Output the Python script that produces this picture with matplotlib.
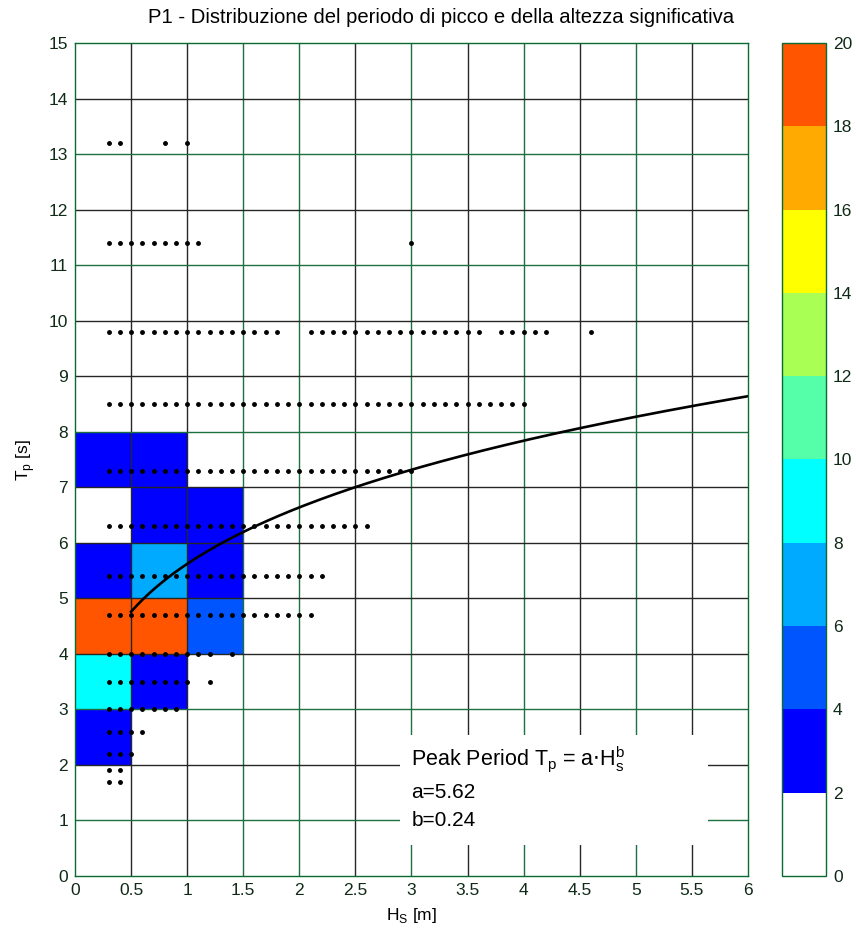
import numpy as np
import matplotlib
matplotlib.use("Agg")
import matplotlib.pyplot as plt
from matplotlib.colors import ListedColormap, BoundaryNorm
from matplotlib.patches import Rectangle

plt.rcParams["font.family"] = ["Liberation Sans", "DejaVu Sans"]

# occurrence matrix cells: (Hs bin start, Tp bin start, value)
hs_edges = [0, 0.5, 1, 1.5, 2, 2.5, 3, 3.5, 4, 4.5, 5, 5.5, 6]
tp_edges = [0, 1, 2, 3, 4, 5, 6, 7, 8, 9, 10, 11, 12, 13, 14, 15]
cell_hs = [0.0, 0.5, 0.5, 1.0, 0.0, 0.5, 1.0, 0.0, 0.5, 1.0, 0.0, 0.5, 0.0]
cell_tp = [7, 7, 6, 6, 5, 5, 5, 4, 4, 4, 3, 3, 2]
cell_val = [3.2, 3.0, 2.8, 2.6, 3.4, 7.0, 3.1, 19.0, 18.6, 5.0, 9.0, 3.3, 2.9]

# observations (Tp level -> Hs values)
tp_levels = [1.7, 1.9, 2.2, 2.6, 3.0, 3.5, 4.0, 4.7, 5.4, 6.3, 7.3, 8.5, 9.8, 11.4, 13.2]
hs_obs = [
    [0.3, 0.4],
    [0.3, 0.4],
    [0.3, 0.4, 0.5],
    [0.3, 0.4, 0.5, 0.6],
    [0.3, 0.4, 0.5, 0.6, 0.7, 0.8, 0.9],
    [0.3, 0.4, 0.5, 0.6, 0.7, 0.8, 0.9, 1.0, 1.2],
    [0.3, 0.4, 0.5, 0.6, 0.7, 0.8, 0.9, 1.0, 1.1, 1.2, 1.4],
    [0.3, 0.4, 0.5, 0.6, 0.7, 0.8, 0.9, 1.0, 1.1, 1.2, 1.3, 1.4, 1.5, 1.6, 1.7,
     1.8, 1.9, 2.0, 2.1],
    [0.3, 0.4, 0.5, 0.6, 0.7, 0.8, 0.9, 1.0, 1.1, 1.2, 1.3, 1.4, 1.5, 1.6, 1.7,
     1.8, 1.9, 2.0, 2.1, 2.2],
    [0.3, 0.4, 0.5, 0.6, 0.7, 0.8, 0.9, 1.0, 1.1, 1.2, 1.3, 1.4, 1.5, 1.6, 1.7,
     1.8, 1.9, 2.0, 2.1, 2.2, 2.3, 2.4, 2.5, 2.6],
    [0.3, 0.4, 0.5, 0.6, 0.7, 0.8, 0.9, 1.0, 1.1, 1.2, 1.3, 1.4, 1.5, 1.6, 1.7,
     1.8, 1.9, 2.0, 2.1, 2.2, 2.3, 2.4, 2.5, 2.6, 2.7, 2.8, 2.9, 3.0],
    [0.3, 0.4, 0.5, 0.6, 0.7, 0.8, 0.9, 1.0, 1.1, 1.2, 1.3, 1.4, 1.5, 1.6, 1.7,
     1.8, 1.9, 2.0, 2.1, 2.2, 2.3, 2.4, 2.5, 2.6, 2.7, 2.8, 2.9, 3.0, 3.1, 3.2,
     3.3, 3.4, 3.5, 3.6, 3.7, 3.8, 3.9, 4.0],
    [0.3, 0.4, 0.5, 0.6, 0.7, 0.8, 0.9, 1.0, 1.1, 1.2, 1.3, 1.4, 1.5, 1.6, 1.7,
     1.8, 2.1, 2.2, 2.3, 2.4, 2.5, 2.6, 2.7, 2.8, 2.9, 3.0, 3.1, 3.2, 3.3, 3.4,
     3.5, 3.6, 3.8, 3.9, 4.0, 4.1, 4.2, 4.6],
    [0.3, 0.4, 0.5, 0.6, 0.7, 0.8, 0.9, 1.0, 1.1, 3.0],
    [0.3, 0.4, 0.8, 1.0],
]

# fit Tp = a * Hs^b
fit_a = 5.62
fit_b = 0.24
fit_hs = np.linspace(0.5, 6, 200)

level_bounds = [0, 2, 4, 6, 8, 10, 12, 14, 16, 18, 20]
level_colors = ["#ffffff", "#0000ff", "#0055ff", "#00aaff", "#00ffff",
                "#55ffaa", "#aaff55", "#ffff00", "#ffaa00", "#ff5500"]

green_x = [1.5, 2, 3, 4, 5]
green_y = [1, 3, 8, 11, 13]

cmap = ListedColormap(level_colors)
norm = BoundaryNorm(level_bounds, cmap.N)

counts = np.zeros((len(tp_edges) - 1, len(hs_edges) - 1))
for h, t, v in zip(cell_hs, cell_tp, cell_val):
    counts[tp_edges.index(t), hs_edges.index(h)] = v

fig = plt.figure(figsize=(8.56, 9.31), dpi=100)
ax = fig.add_axes([0.0876, 0.0591, 0.7862, 0.8947])
cax = fig.add_axes([0.9136, 0.0591, 0.0514, 0.8947])

mesh = ax.pcolormesh(hs_edges, tp_edges, counts, cmap=cmap, norm=norm, zorder=0)

# grid
for x in hs_edges[1:-1]:
    ax.axvline(x, color="#1d7040" if x in green_x else "#262626", lw=1, zorder=1)
for y in tp_edges[1:-1]:
    ax.axhline(y, color="#1d7040" if y in green_y else "#262626", lw=1, zorder=1)

# equation box hides the grid
ax.add_patch(Rectangle((2.9, 0.56), 2.74, 1.98, facecolor="white",
                       edgecolor="none", zorder=2))
ax.text(3.0, 2.1, r"Peak Period T$_\mathregular{p}$ = a$\cdot$H$_\mathregular{s}^\mathregular{b}$",
        fontsize=15.5, va="center", ha="left", zorder=3)
ax.text(3.0, 1.5, "a=5.62", fontsize=15, va="center", ha="left", zorder=3)
ax.text(3.0, 1.0, "b=0.24", fontsize=15, va="center", ha="left", zorder=3)

for tp, hs in zip(tp_levels, hs_obs):
    ax.plot(hs, [tp] * len(hs), "o", color="black", ms=2.5, zorder=4, ls="none")

ax.plot(fit_hs, fit_a * fit_hs ** fit_b, color="black", lw=1.9, zorder=5)

ax.set_xlim(0, 6)
ax.set_ylim(0, 15)
ax.set_xticks(hs_edges)
ax.set_xticklabels(["0", "0.5", "1", "1.5", "2", "2.5", "3", "3.5", "4",
                    "4.5", "5", "5.5", "6"])
ax.set_yticks(tp_edges)
ax.tick_params(length=0, labelsize=12.5, colors="#102a18", pad=5)
for s in ax.spines.values():
    s.set_color("#0a6a30")
    s.set_linewidth(1)
    s.set_zorder(6)

ax.set_xlabel(r"H$_\mathregular{S}$ [m]", fontsize=12.5, labelpad=6)
ax.set_ylabel(r"T$_\mathregular{p}$ [s]", fontsize=12.5, labelpad=8)

fig.text(0.515, 0.981, "P1 - Distribuzione del periodo di picco e della altezza significativa",
         ha="center", va="center", fontsize=14.6)

cb = fig.colorbar(mesh, cax=cax, ticks=level_bounds)
cb.ax.tick_params(length=0, labelsize=12.5, colors="#102a18", pad=5)
cb.outline.set_edgecolor("#0a6a30")
cb.outline.set_linewidth(1)

fig.savefig("out.png", dpi=100)
